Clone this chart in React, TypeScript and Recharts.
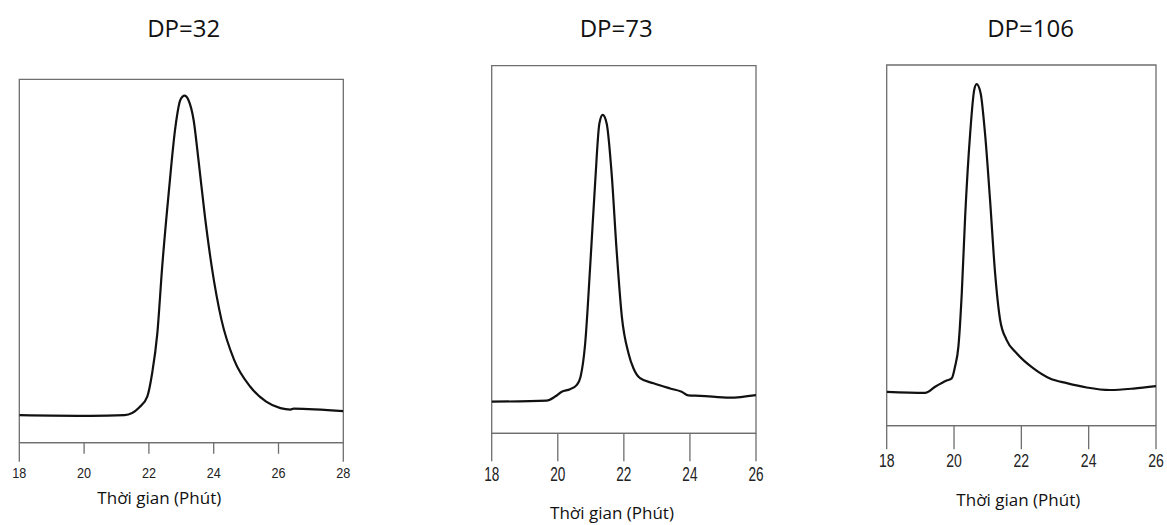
import React from "react";
import { LineChart, Line, XAxis, YAxis, ReferenceArea } from "recharts";

// Thời gian (phút) vs tín hiệu (đơn vị tương đối 0–100)
const dp32Time = [18, 20.2, 21.25, 21.7, 21.95, 22.1, 22.26, 22.41, 22.61, 22.82, 22.97, 23.1, 23.22, 23.38, 23.53, 23.73, 23.94, 24.24, 24.63, 25.13, 25.62, 26.06, 26.37, 26.47, 28];
const dp32Signal = [7.6, 7.4, 7.6, 9.7, 12.7, 19.1, 30.1, 48.4, 68.6, 87, 94.3, 95.5, 94.3, 88.8, 77.8, 62.2, 48.4, 33.8, 22.8, 15.4, 11.3, 9.5, 9.1, 9.4, 8.7];

const dp73Time = [18, 19.66, 19.92, 20.12, 20.37, 20.57, 20.69, 20.83, 20.98, 21.13, 21.26, 21.36, 21.48, 21.63, 21.78, 21.94, 22.14, 22.29, 22.49, 22.9, 23.4, 23.75, 23.95, 24.31, 25.2, 26];
const dp73Signal = [8.6, 8.9, 10, 11.3, 12, 13.1, 15.4, 24.5, 45.3, 68, 84.3, 86.6, 84.3, 70.7, 49.9, 31.7, 21.8, 17.7, 15, 13.6, 12.2, 11.3, 10.3, 10.2, 9.7, 10.4];

const dp106Time = [18, 19.14, 19.44, 19.78, 19.93, 20.03, 20.13, 20.23, 20.33, 20.48, 20.6, 20.67, 20.79, 20.92, 21.07, 21.22, 21.37, 21.56, 21.86, 22.36, 22.85, 23.35, 23.94, 24.63, 25.33, 26];
const dp106Signal = [9.4, 9.1, 10.8, 12.5, 13.1, 16.4, 21.9, 36.7, 57.9, 81.1, 93.1, 94.7, 92.2, 81.1, 62.6, 42.3, 29.3, 23.8, 20.1, 15.9, 13.1, 11.8, 10.6, 9.9, 10.3, 11];

const ticks32 = [18, 20, 22, 24, 26, 28];
const ticks73 = [18, 20, 22, 24, 26];
const ticks106 = [18, 20, 22, 24, 26];

const titles = ["DP=32", "DP=73", "DP=106"];
const xLabel = "Thời gian (Phút)";

const zip = (t: number[], v: number[]) => t.map((x, i) => ({ t: x, v: v[i] }));

const panels = [
  {
    data: zip(dp32Time, dp32Signal),
    ticks: ticks32,
    title: titles[0],
    left: 0,
    width: 400,
    plot: { left: 19.3, right: 343.3, top: 79.3, bottom: 442.7 },
    tickLen: 11,
    edgeLen: 19,
    labelTop: 24.6,
    tickFont: 15.4,
    tickScale: 0.82,
    titleX: 183.7,
    labelX: 159.3,
    labelTopY: 488.9,
  },
  {
    data: zip(dp73Time, dp73Signal),
    ticks: ticks73,
    title: titles[1],
    left: 400,
    width: 400,
    plot: { left: 491.7, right: 756, top: 65.7, bottom: 433.3 },
    tickLen: 28,
    edgeLen: 28,
    labelTop: 33.4,
    tickFont: 20,
    tickScale: 0.68,
    titleX: 616.2,
    labelX: 612,
    labelTopY: 503.5,
  },
  {
    data: zip(dp106Time, dp106Signal),
    ticks: ticks106,
    title: titles[2],
    left: 800,
    width: 367,
    plot: { left: 886.7, right: 1156, top: 65, bottom: 425.7 },
    tickLen: 23.6,
    edgeLen: 23.6,
    labelTop: 28.3,
    tickFont: 18.5,
    tickScale: 0.76,
    titleX: 1030.5,
    labelX: 1018.3,
    labelTopY: 490.6,
  },
];

const boxColor = "#6e6e6e";

function Panel({ p }: { p: (typeof panels)[number] }) {
  const domain = [p.ticks[0], p.ticks[p.ticks.length - 1]];
  const last = p.ticks.length - 1;

  // ticks: edge ticks continue the frame downward, labels are condensed digits
  const renderTick = (props: any) => {
    const { x, y, payload, index } = props;
    const len = index === 0 || index === last ? p.edgeLen : p.tickLen;
    return (
      <g>
        <line x1={x} x2={x} y1={y} y2={y + len} stroke={boxColor} strokeWidth={1.3} />
        <text
          x={0}
          y={y + p.labelTop}
          dy="0.71em"
          textAnchor="middle"
          fontSize={p.tickFont}
          fill="#222"
          fontFamily="'Liberation Sans', Arial, sans-serif"
          transform={`translate(${x},0) scale(${p.tickScale},1)`}
        >
          {payload.value}
        </text>
      </g>
    );
  };

  return (
    <div style={{ position: "absolute", left: p.left, top: 0, width: p.width, height: 525 }}>
      <LineChart
        width={p.width}
        height={525}
        data={p.data}
        margin={{
          top: p.plot.top,
          left: p.plot.left - p.left,
          right: p.left + p.width - p.plot.right,
          bottom: 0,
        }}
      >
        <XAxis
          type="number"
          dataKey="t"
          domain={domain}
          ticks={p.ticks}
          interval={0}
          height={525 - p.plot.bottom}
          axisLine={{ stroke: boxColor, strokeWidth: 1.3 }}
          tickLine={false}
          tickSize={0}
          tickMargin={0}
          tick={renderTick}
          allowDataOverflow
        />
        <YAxis type="number" domain={[0, 100]} hide allowDataOverflow />
        <ReferenceArea
          x1={domain[0]}
          x2={domain[1]}
          y1={0}
          y2={100}
          fill="none"
          stroke={boxColor}
          strokeWidth={1.3}
        />
        <Line
          type="monotone"
          dataKey="v"
          stroke="#111"
          strokeWidth={2.2}
          dot={false}
          isAnimationActive={false}
        />
      </LineChart>
      <div
        style={{
          position: "absolute",
          left: p.titleX - p.left,
          top: 16.4,
          transform: "translateX(-50%)",
          whiteSpace: "nowrap",
          fontFamily: "'Open Sans', sans-serif",
          fontSize: 24,
          lineHeight: 1,
          color: "#111",
        }}
      >
        {p.title}
      </div>
      <div
        style={{
          position: "absolute",
          left: p.labelX - p.left,
          top: p.labelTopY,
          transform: "translateX(-50%)",
          whiteSpace: "nowrap",
          fontFamily: "'Open Sans', sans-serif",
          fontSize: 17,
          lineHeight: 1,
          color: "#111",
        }}
      >
        {xLabel}
      </div>
    </div>
  );
}

export default function App() {
  return (
    <div style={{ position: "absolute", left: 0, top: 0, width: 1167, height: 525, background: "#fff", overflow: "hidden" }}>
      {panels.map((p) => (
        <Panel key={p.title} p={p} />
      ))}
    </div>
  );
}
